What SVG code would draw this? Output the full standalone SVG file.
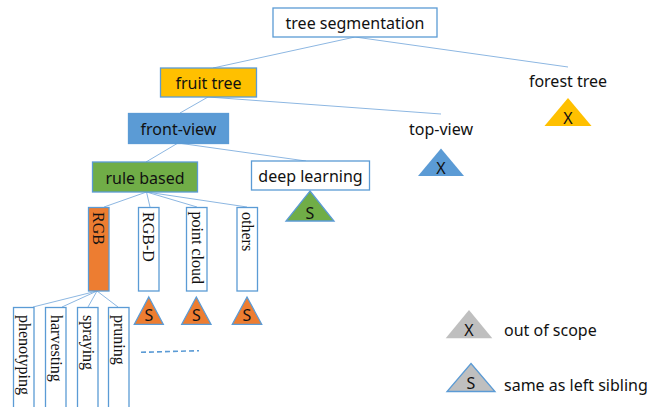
<svg xmlns="http://www.w3.org/2000/svg" width="653" height="407" viewBox="0 0 653 407">
  <style>
    .box { stroke: #5B9BD5; stroke-width: 1.3; }
    .lbl { font-family: "Noto Sans", "Open Sans", sans-serif; font-size: 16px; fill: #111; text-anchor: middle; }
    .leg { font-family: "Noto Sans", "Open Sans", sans-serif; font-size: 16px; fill: #111; }
    .vt { font-family: "Liberation Serif", "Times New Roman", serif; font-size: 16px; fill: #111; }
    .tri { font-family: "Noto Sans", "Open Sans", sans-serif; font-size: 16px; fill: #111; text-anchor: middle; }
    .edge { stroke: #8DB7E2; stroke-width: 1; fill: none; }
    .tri-s { stroke: #5B9BD5; stroke-width: 1.3; }
  </style>

  <rect width="653" height="407" fill="#ffffff"/>

  <!-- connectors -->
  <g id="connectors">
    <line class="edge" x1="355" y1="37" x2="213" y2="68"/>
    <line class="edge" x1="355" y1="37" x2="568" y2="67"/>
    <line class="edge" x1="208" y1="97" x2="180" y2="113"/>
    <line class="edge" x1="208" y1="97" x2="441" y2="114"/>
    <line class="edge" x1="178" y1="143" x2="146" y2="162"/>
    <line class="edge" x1="178" y1="143" x2="306" y2="161"/>
    <line class="edge" x1="146.5" y1="192" x2="104" y2="207"/>
    <line class="edge" x1="146.5" y1="192" x2="150" y2="207"/>
    <line class="edge" x1="146.5" y1="192" x2="197" y2="207"/>
    <line class="edge" x1="146.5" y1="192" x2="247" y2="207"/>
    <line class="edge" x1="97" y1="291" x2="33" y2="307"/>
    <line class="edge" x1="97" y1="291" x2="62" y2="307"/>
    <line class="edge" x1="97" y1="291" x2="88" y2="307"/>
    <line class="edge" x1="97" y1="291" x2="118" y2="307"/>
    <line x1="141" y1="352.3" x2="199" y2="350.7" stroke="#5B9BD5" stroke-width="1.6" stroke-dasharray="5,3"/>
  </g>

  <!-- root -->
  <g id="tree-segmentation">
    <rect class="box" x="273" y="8" width="164" height="29" fill="#ffffff"/>
    <text class="lbl" x="355" y="29">tree segmentation</text>
  </g>

  <g id="fruit-tree">
    <rect class="box" x="160.5" y="68" width="96" height="29" fill="#FFC000"/>
    <text class="lbl" x="208.5" y="89">fruit tree</text>
  </g>

  <g id="forest-tree">
    <text class="lbl" x="568" y="87">forest tree</text>
    <polygon points="568,98 591.5,126 544.5,126" fill="#FFC000"/>
    <text class="tri" x="568" y="124">X</text>
  </g>

  <g id="front-view">
    <rect class="box" x="128.5" y="113.5" width="100" height="30" fill="#5B9BD5"/>
    <text class="lbl" x="178.5" y="135">front-view</text>
  </g>

  <g id="top-view">
    <text class="lbl" x="441" y="135">top-view</text>
    <polygon points="441,148.5 464,176 418,176" fill="#5B9BD5"/>
    <text class="tri" x="441" y="174">X</text>
  </g>

  <g id="rule-based">
    <rect class="box" x="92.5" y="162" width="105" height="30" fill="#70AD47"/>
    <text class="lbl" x="145" y="184">rule based</text>
  </g>

  <g id="deep-learning">
    <rect class="box" x="251.5" y="161" width="118" height="29" fill="#ffffff"/>
    <text class="lbl" x="310.5" y="182">deep learning</text>
    <polygon class="tri-s" points="310,191 334,221 286,221" fill="#70AD47"/>
    <text class="tri" x="310" y="218.5">S</text>
  </g>

  <!-- sensor types (vertical labels) -->
  <g id="rgb">
    <rect class="box" x="88.5" y="207.5" width="20.5" height="83.5" fill="#ED7D31"/>
    <text class="vt" transform="translate(93,212) rotate(90)">RGB</text>
  </g>

  <g id="rgb-d">
    <rect class="box" x="138.5" y="207.5" width="20.5" height="83.5" fill="#ffffff"/>
    <text class="vt" transform="translate(143,212) rotate(90)">RGB-D</text>
    <polygon class="tri-s" points="148.8,297 163.3,324.3 134.3,324.3" fill="#ED7D31"/>
    <text class="tri" x="148.8" y="320.7">S</text>
  </g>

  <g id="point-cloud">
    <rect class="box" x="186.5" y="207.5" width="20.5" height="83.5" fill="#ffffff"/>
    <text class="vt" transform="translate(191.5,211.5) rotate(90)">point cloud</text>
    <polygon class="tri-s" points="196.3,297 211,324.3 181.7,324.3" fill="#ED7D31"/>
    <text class="tri" x="196.3" y="320.7">S</text>
  </g>

  <g id="others">
    <rect class="box" x="237" y="207.5" width="20.5" height="83.5" fill="#ffffff"/>
    <text class="vt" transform="translate(241.5,212) rotate(90)">others</text>
    <polygon class="tri-s" points="247,297 261.7,324.3 232.3,324.3" fill="#ED7D31"/>
    <text class="tri" x="247" y="320.7">S</text>
  </g>

  <!-- applications -->
  <g id="phenotyping">
    <rect class="box" x="13.5" y="307.5" width="20.5" height="115" fill="#ffffff"/>
    <text class="vt" transform="translate(18.5,315) rotate(90)">phenotyping</text>
  </g>

  <g id="harvesting">
    <rect class="box" x="45.5" y="307.5" width="20.5" height="115" fill="#ffffff"/>
    <text class="vt" transform="translate(50.5,315) rotate(90)">harvesting</text>
  </g>

  <g id="spraying">
    <rect class="box" x="77.5" y="307.5" width="20.5" height="115" fill="#ffffff"/>
    <text class="vt" transform="translate(82.5,315) rotate(90)">spraying</text>
  </g>

  <g id="pruning">
    <rect class="box" x="108.5" y="307.5" width="20.5" height="115" fill="#ffffff"/>
    <text class="vt" transform="translate(113.5,315) rotate(90)">pruning</text>
  </g>

  <!-- legend -->
  <g id="legend">
    <polygon points="469,310 492.3,338.3 445.7,338.3" fill="#BFBFBF"/>
    <text class="tri" x="469" y="336">X</text>
    <text class="leg" x="504" y="336">out of scope</text>
    <polygon class="tri-s" points="471,363.5 495,391.5 447,391.5" fill="#BFBFBF"/>
    <text class="tri" x="471" y="389">S</text>
    <text class="leg" x="504" y="391">same as left sibling</text>
  </g>
</svg>
